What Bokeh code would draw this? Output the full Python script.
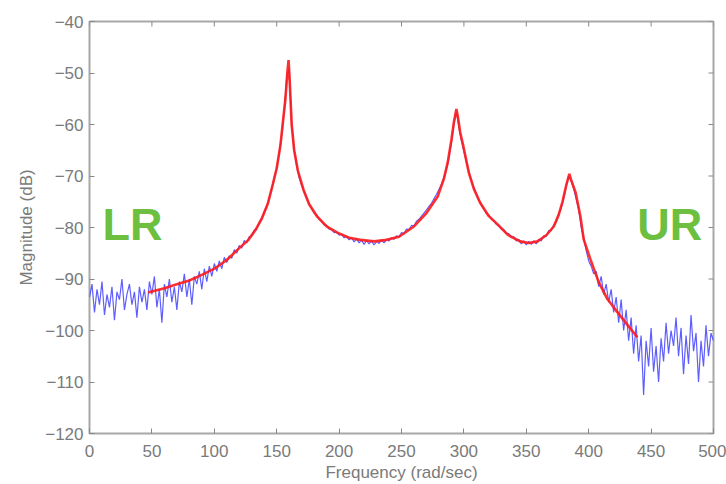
from bokeh.plotting import figure
from bokeh.models import Range1d, FixedTicker, Label
from bokeh.embed import file_html
from bokeh.resources import INLINE
import math

# ---- data ----
x_ticks = [0, 50, 100, 150, 200, 250, 300, 350, 400, 450, 500]
y_ticks = [-120, -110, -100, -90, -80, -70, -60, -50, -40]

# measured (noisy) response, sampled every 2 rad/sec from 0 to 500
blue_a = [-93.5, -91, -96.5, -92, -95, -90.5, -97, -93, -95.5, -91.5,
          -98, -92.5, -94, -90, -96, -93, -91, -95, -92.5, -97.5,
          -91.5, -94.5, -92, -96, -90.5, -93]
blue_b = [-89.5, -95.5, -92, -98.5, -91, -93.5, -90, -94.5, -91.5, -96,
          -90.5, -92.5, -89, -93.5, -90, -95, -89.5, -91, -88.5, -92,
          -88, -90.5, -87.5, -89.5, -87]
blue_c = [-88.5, -86.5, -88, -85.8, -86.8, -85.5, -86, -84.3, -85, -83.5,
          -84, -82.5, -83, -81.8, -81.6, -80.5, -80.2, -79, -78.4, -77,
          -76, -74.2, -72.5, -70.3, -68.5, -65.5, -62, -57.5, -51, -49,
          -60, -65, -68, -70.3, -71.8, -73, -74.3, -75.4, -76.3, -77.2,
          -77.6, -78.4, -78.8, -79.5, -79.6, -80.3, -80.4, -81, -80.9, -81.5]
blue_d = [-81.3, -82, -81.7, -82.4, -82, -82.8, -82.2, -83, -82.4, -83.3,
          -82.5, -83.2, -82.6, -83.4, -82.7, -83.1, -82.4, -83, -82.3, -82.6,
          -82, -82.3, -81.6, -81.8, -81, -81.2, -80.3, -80.4, -79.6, -79.7,
          -78.8, -78.4, -77.8, -77.2, -76.6, -75.9, -75.3, -74.4, -73.6, -72.6,
          -71.6, -70.3, -68.6, -66.6, -63.5, -60, -57.5, -60.5, -63.2, -65.2]
blue_e = [-67.3, -69.2, -70.9, -72.3, -73.5, -74.6, -75.6, -76.4, -77.2, -77.6,
          -78.4, -78.7, -79.4, -79.6, -80.3, -80.4, -81.1, -81.2, -81.9, -81.8,
          -82.6, -82.3, -83.2, -82.6, -83.4, -82.7, -83.3, -82.6, -83.2, -82.3,
          -82.6, -81.6, -81.7, -80.6, -80.6, -79.5, -78.9, -77.4, -76.2, -74.3,
          -72, -70, -71, -72.5, -74.5, -76.5, -80, -82, -84.5, -86.5]
blue_f = [-87.5, -89, -88.5, -91.5, -89.5, -93, -91, -94.5, -92, -96.5,
          -93.5, -98.5, -94, -100, -96, -102, -97.5, -104.5, -99, -106,
          -101, -112.5, -102, -107, -99.5, -108, -103, -110, -101.5, -106,
          -98.5, -104.5, -100, -103, -97.5, -105, -99.5, -108.5, -101, -106.5,
          -97, -104, -100.5, -110, -102, -107, -99, -105, -100.5, -102]
blue_mag = blue_a + blue_b + blue_c + blue_d + blue_e + blue_f
blue_freq = list(range(0, 501, 2))
assert len(blue_freq) == len(blue_mag)

# fitted model response
red_freq = [47, 60, 70, 80, 90, 100, 110, 120, 127, 133, 138, 143, 147, 150,
            153, 155, 157, 158.5, 159.5, 160.5, 162, 164, 167, 171.5, 176,
            182.5, 190, 198.6, 208, 217, 228, 238, 248, 260, 270, 279, 284,
            287, 290, 292, 294, 295.5, 297, 299, 304, 308, 313, 320, 327, 335,
            345, 352, 359, 366, 372, 376, 379, 382, 384.5, 386, 389.5, 393.4,
            396, 401.4, 408, 415, 420, 425.5, 432, 439]
red_mag = [-92.6, -91.8, -91.0, -90.3, -89.2, -88.0, -86.3, -84.0, -82.5, -80.5,
           -78.3, -75.3, -71.5, -68.5, -64, -59.5, -55, -50, -47.5, -52, -60,
           -65, -69, -72.7, -75.5, -77.9, -79.8, -81.0, -82, -82.4, -82.7,
           -82.4, -81.8, -79.8, -77.2, -74, -70.5, -67.4, -63, -59.5, -57,
           -59, -61.5, -63.6, -69.4, -72.5, -75.2, -77.8, -79.4, -81.4, -82.7,
           -83, -82.7, -81.5, -79.8, -77.5, -75, -71.8, -69.6, -70.8, -73.2,
           -77.9, -82.3, -86.2, -90.6, -93.9, -95.5, -97.2, -99.2, -101.3]

X_MIN, X_MAX = x_ticks[0], x_ticks[-1]
Y_MIN, Y_MAX = y_ticks[0], y_ticks[-1]

# ---- styling ----
TEXT = "#7a7a7a"
AXIS = "#a8a8a8"
TICK = "#888888"
FONT = "Liberation Sans"
FS = "17px"

p = figure(width=726, height=484,
           x_range=Range1d(X_MIN, X_MAX), y_range=Range1d(Y_MIN, Y_MAX),
           output_backend="svg", toolbar_location=None,
           min_border_left=89, min_border_right=13,
           min_border_top=21, min_border_bottom=49)
p.background_fill_color = "white"
p.border_fill_color = "white"
p.outline_line_color = AXIS
p.outline_line_width = 2
p.xgrid.visible = False
p.ygrid.visible = False

for ax, ticks in ((p.xaxis[0], x_ticks), (p.yaxis[0], y_ticks)):
    ax.ticker = FixedTicker(ticks=ticks)
    ax.axis_line_color = None
    ax.major_tick_in = 5
    ax.major_tick_out = 0
    ax.major_tick_line_color = TICK
    ax.minor_tick_line_color = None
    ax.major_label_text_font = FONT
    ax.major_label_text_font_size = FS
    ax.major_label_text_color = TEXT
    ax.axis_label_text_font = FONT
    ax.axis_label_text_font_size = FS
    ax.axis_label_text_font_style = "normal"
    ax.axis_label_text_color = TEXT

p.xaxis.axis_label = "Frequency (rad/sec)"
p.yaxis.axis_label = "Magnitude (dB)"
p.xaxis.major_label_standoff = 11
p.xaxis.axis_label_standoff = 3
p.yaxis.major_label_standoff = 6
p.yaxis.axis_label_standoff = 6

# inward ticks on the top and right edges of the box
p.ray(x=x_ticks, y=[Y_MAX] * len(x_ticks), length=5, length_units="screen",
      angle=-math.pi / 2, line_color=TICK, line_width=1)
p.ray(x=[X_MAX] * len(y_ticks), y=y_ticks, length=5, length_units="screen",
      angle=math.pi, line_color=TICK, line_width=1)

p.line(blue_freq, blue_mag, line_color="#1a1aff", line_width=1.2, line_alpha=0.7)
p.line(red_freq, red_mag, line_color="#ff1a1a", line_width=2.6, line_alpha=0.9)

for txt, xx in (("LR", 10.5), ("UR", 439)):
    p.add_layout(Label(x=xx, y=-79.5, text=txt, text_font=FONT,
                       text_font_size="45px", text_font_style="bold",
                       text_color="#6cbf3f", text_baseline="alphabetic",
                       text_align="left"))

open("out.html", "w").write(file_html(p, INLINE))
